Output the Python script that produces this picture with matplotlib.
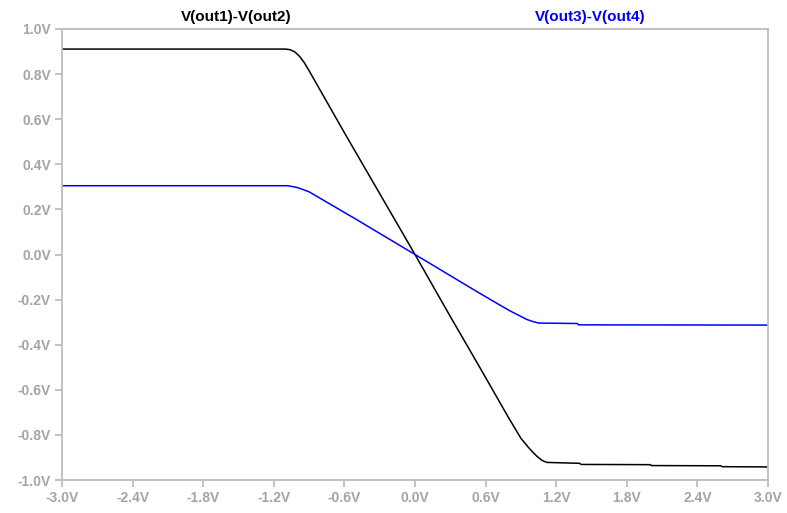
import numpy as np
import matplotlib.pyplot as plt
from matplotlib.ticker import FuncFormatter

# sweep points (V)
x_out12 = [-3.0, -1.1, -1.06, -1.02, -0.98, -0.94, -0.9, -0.6, -0.3, 0.0,
           0.3, 0.55, 0.8, 0.9, 0.96, 1.0, 1.04, 1.08, 1.12, 1.4, 1.41,
           2.0, 2.01, 2.6, 2.61, 3.0]
v_out12 = [0.911, 0.911, 0.908, 0.898, 0.878, 0.85, 0.815, 0.54, 0.27, 0.0,
           -0.275, -0.5, -0.728, -0.815, -0.853, -0.876, -0.897, -0.913, -0.922, -0.926, -0.931,
           -0.932, -0.936, -0.937, -0.941, -0.942]

x_out34 = [-3.0, -1.08, -1.0, -0.9, -0.5, 0.0, 0.55, 0.8, 0.95, 1.0, 1.05, 1.38, 1.39, 3.0]
v_out34 = [0.305, 0.305, 0.297, 0.278, 0.156, 0.0, -0.172, -0.248, -0.288, -0.297, -0.304,
           -0.306, -0.312, -0.313]

x_ticks = [-3.0, -2.4, -1.8, -1.2, -0.6, 0.0, 0.6, 1.2, 1.8, 2.4, 3.0]
y_ticks = [-1.0, -0.8, -0.6, -0.4, -0.2, 0.0, 0.2, 0.4, 0.6, 0.8, 1.0]

grey_txt = '#a4a4a4'
grey_ax = '#bdbdbd'
fam = ['Liberation Sans', 'DejaVu Sans']

fig = plt.figure(figsize=(7.87, 5.13), dpi=100)
ax = fig.add_axes([62 / 787, 1 - 480 / 513, 706 / 787, 451 / 513])

ax.plot(x_out12, v_out12, color='black', lw=1.1)
ax.plot(x_out34, v_out34, color='#0000ff', lw=1.1)

ax.set_xlim(-3, 3)
ax.set_ylim(-1, 1)
ax.set_xticks(x_ticks)
ax.set_yticks(y_ticks)
fmt = FuncFormatter(lambda v, p: f"{v:.1f}V".replace('-0.0', '0.0'))
ax.xaxis.set_major_formatter(fmt)
ax.yaxis.set_major_formatter(fmt)

for s in ax.spines.values():
    s.set_color(grey_ax)
    s.set_linewidth(1.3)
ax.tick_params(direction='out', length=5, width=1.3, color=grey_ax,
               labelcolor=grey_txt, labelsize=10, pad=3)
for lab in ax.get_xticklabels() + ax.get_yticklabels():
    lab.set_family(fam)
    lab.set_fontweight('bold')

ax.text(0.247, 1.01, 'V(out1)-V(out2)', transform=ax.transAxes, ha='center',
        va='bottom', color='black', fontsize=11, fontweight='bold', family=fam)
ax.text(0.748, 1.01, 'V(out3)-V(out4)', transform=ax.transAxes, ha='center',
        va='bottom', color='#0000ff', fontsize=11, fontweight='bold', family=fam)

fig.savefig('out.png', dpi=100)
